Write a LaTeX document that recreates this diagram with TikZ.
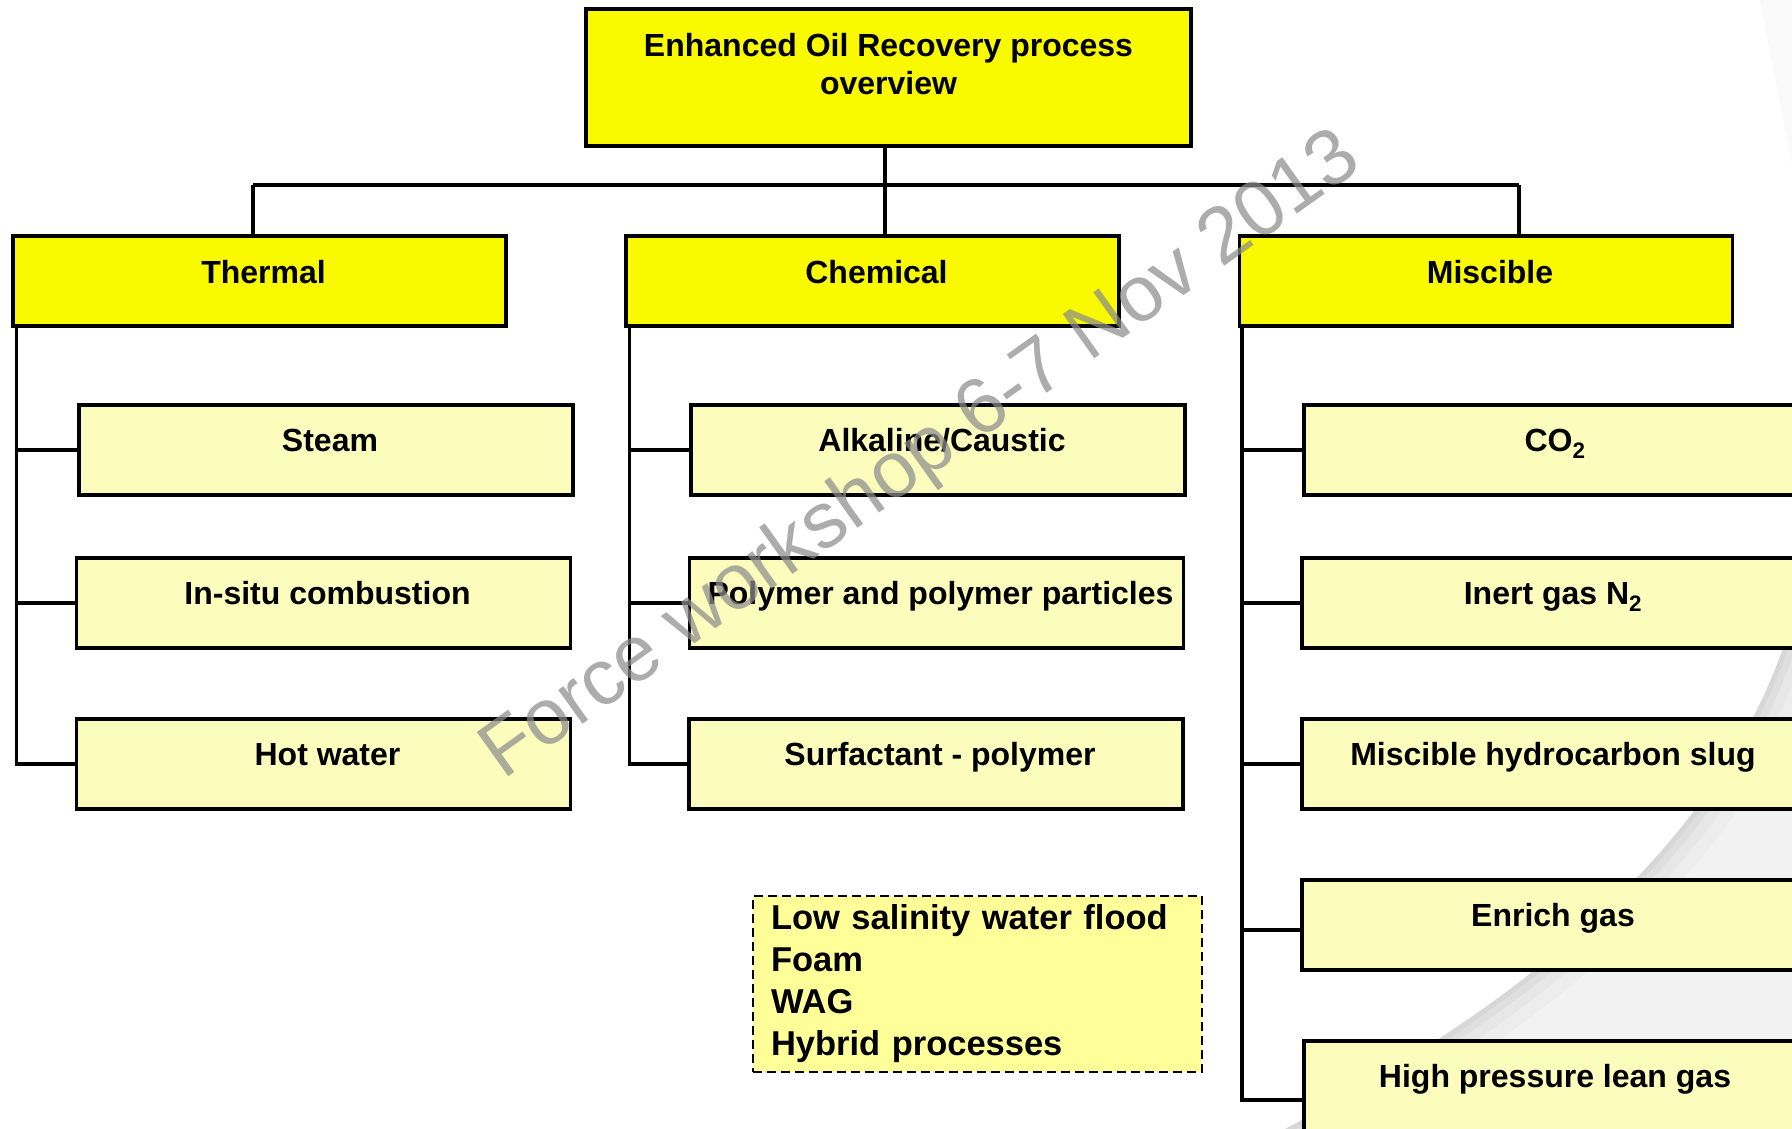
\documentclass[tikz,border=0pt]{standalone}
\usepackage{fontspec}
\setmainfont{Liberation Sans}
\definecolor{topyellow}{RGB}{249,249,0}
\definecolor{subyellow}{RGB}{252,252,188}
\definecolor{dashyellow}{RGB}{255,255,153}
\definecolor{wmgray}{RGB}{140,140,140}
\newcommand\eorboxfont{\fontsize{32}{38.4}\selectfont\bfseries}
\newcommand\eorlistfont{\fontsize{34.5}{42}\selectfont\bfseries}
\newcommand\eorwmfont{\fontsize{79}{84}\selectfont}
\begin{document}
\begin{tikzpicture}[x=1pt,y=-1pt,
  lvlzero/.style={draw=black, line width=3.2pt, fill=topyellow, minimum width=605pt,
    inner xsep=0pt, inner ysep=0pt, text height=86pt, text depth=51pt, align=center, font=\eorboxfont},
  lvlone/.style={draw=black, line width=3.2pt, fill=topyellow, minimum width=493pt,
    inner xsep=0pt, inner ysep=0pt, text height=47.5pt, text depth=42.5pt, font=\eorboxfont,
    execute at begin node={\hspace*{8pt}}},
  lvltwo/.style={draw=black, line width=3.2pt, fill=subyellow, minimum width=494pt,
    inner xsep=0pt, inner ysep=0pt, text height=46pt, text depth=44pt, font=\eorboxfont,
    execute at begin node={\hspace*{8pt}}},
  dashbox/.style={draw=black, line width=2.4pt, dash pattern=on 9pt off 5pt, fill=dashyellow,
    minimum width=449pt, minimum height=176pt, inner xsep=18pt, text width=413pt, align=left, font=\eorlistfont},
  conn/.style={draw=black, line width=3.2pt},
  wmark/.style={text=wmgray, opacity=0.72, inner sep=0pt, font=\eorwmfont}
]
\useasboundingbox (0,0) rectangle (1792,1129);
\clip (0,0) rectangle (1792,1129);
\fill[white] (0,0) rectangle (1792,1129);

% background swoosh
\begin{scope}
\clip (1285,1129) .. controls (1510,1010) and (1725,850) .. (1792,620) -- (1792,1129) -- cycle;
\fill[black!5] (1200,500) rectangle (1792,1129);
\foreach \w/\o in {70pt/0.02,44pt/0.025,24pt/0.03,10pt/0.035}
  \draw[line width=\w, black, opacity=\o] (1285,1129) .. controls (1510,1010) and (1725,850) .. (1792,620);
\end{scope}
\fill[black!2] (1760,0) -- (1792,0) -- (1792,165) -- cycle;

% top
\node[lvlzero] (eor) at (888.5,77.5) {Enhanced Oil Recovery process\\overview};

% level one
\node[lvlone] (thermal) at (259.5,281) {Thermal};
\node[lvlone] (chem) at (872.5,281) {Chemical};
\node[lvlone] (misc) at (1486,281) {Miscible};

% level two: thermal
\node[lvltwo] (steam) at (326,450) {Steam};
\node[lvltwo] (insitu) at (323.5,603) {In-situ combustion};
\node[lvltwo] (hotwater) at (323.5,764) {Hot water};

% level two: chemical
\node[lvltwo] (alkaline) at (938,450) {Alkaline/Caustic};
\node[lvltwo] (polymer) at (936.5,603) {Polymer and polymer particles};
\node[lvltwo] (surfactant) at (936,764) {Surfactant - polymer};

% level two: miscible
\node[lvltwo] (co2) at (1551,450) {CO\textsubscript{2}};
\node[lvltwo] (inert) at (1549,603) {Inert gas N\textsubscript{2}};
\node[lvltwo] (mhs) at (1549,764) {Miscible hydrocarbon slug};
\node[lvltwo] (enrich) at (1549,925) {Enrich gas};
\node[lvltwo] (hp) at (1551,1086) {High pressure lean gas};

% other methods
\node[dashbox] (other) at (977.5,984) {Low salinity water flood\\Foam\\WAG\\Hybrid processes};

% connectors top
\coordinate (barL) at (253,185);
\coordinate (barM) at (885,185);
\coordinate (barR) at (1519,185);
\draw[conn] (barL) -- (barR);
\draw[conn] (barM |- eor.south) -- (barM) -- (barM |- chem.north);
\draw[conn] (barL) -- (barL |- thermal.north);
\draw[conn] (barR) -- (barR |- misc.north);

% thermal branch
\coordinate (tv) at ([xshift=5pt]thermal.south west);
\draw[conn] (tv) |- (hotwater.west);
\draw[conn] (tv |- steam.west) -- (steam.west);
\draw[conn] (tv |- insitu.west) -- (insitu.west);

% chemical branch
\coordinate (cv) at ([xshift=5pt]chem.south west);
\draw[conn] (cv) |- (surfactant.west);
\draw[conn] (cv |- alkaline.west) -- (alkaline.west);
\draw[conn] (cv |- polymer.west) -- (polymer.west);

% miscible branch
\coordinate (mv) at ([xshift=4pt]misc.south west);
\coordinate (hpc) at ([yshift=-14pt]hp.west);
\draw[conn] (mv) |- (hpc);
\draw[conn] (mv |- co2.west) -- (co2.west);
\draw[conn] (mv |- inert.west) -- (inert.west);
\draw[conn] (mv |- mhs.west) -- (mhs.west);
\draw[conn] ([yshift=-5pt]mv |- enrich.west) -- ([yshift=-5pt]enrich.west);

% watermark
\node[wmark, anchor=base west, rotate=35.5] (wmk) at (503,781) {Force workshop 6-7 Nov 2013};
\end{tikzpicture}
\end{document}
